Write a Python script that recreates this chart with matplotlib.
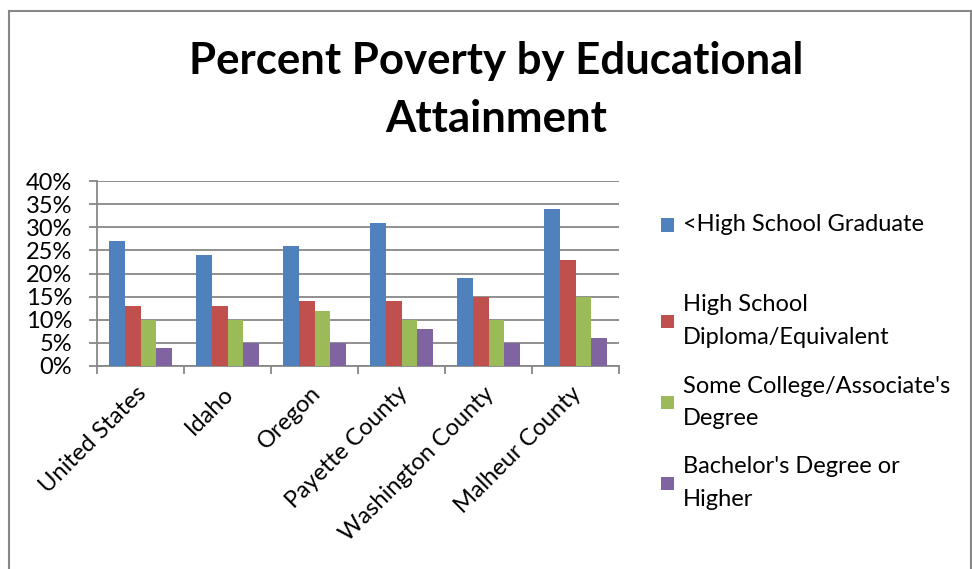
import textwrap
import matplotlib
matplotlib.use("Agg")
import matplotlib.pyplot as plt
import matplotlib.transforms as mtransforms
from matplotlib.patches import Rectangle
from matplotlib.ticker import PercentFormatter, FixedLocator
import numpy as np

plt.rcParams['font.family'] = ['Lato', 'DejaVu Sans']

title = "Percent Poverty by Educational\nAttainment"
regions = ["United States", "Idaho", "Oregon", "Payette County",
           "Washington County", "Malheur County"]
series_names = ["<High School Graduate", "High School Diploma/Equivalent",
                "Some College/Associate's Degree", "Bachelor's Degree or Higher"]
less_than_hs = [27, 24, 26, 31, 19, 34]
hs_diploma = [13, 13, 14, 14, 15, 23]
some_college = [10, 10, 12, 10, 10, 15]
bachelors = [4, 5, 5, 8, 5, 6]
series_values = [less_than_hs, hs_diploma, some_college, bachelors]
colors = ["#4F81BD", "#C0504D", "#9BBB59", "#8064A2"]

W, H = 972, 569
fig = plt.figure(figsize=(W / 100, H / 100), dpi=100)
fig.patch.set_facecolor("white")

# chart frame
fig.add_artist(Rectangle((9 / W, -0.1), (971 - 9) / W, 1.1 - 11 / H,
                         transform=fig.transFigure, fill=False,
                         edgecolor="#878787", linewidth=1.5))

ax = fig.add_axes([97 / W, 1 - 366 / H, (619 - 97) / W, (366 - 181) / H])
grid_c = "#878787"
fs = 17

n_cat = len(regions)
n_ser = len(series_values)
bw = 1 / (n_ser + 1.5)
x = np.arange(n_cat) + 0.5
for i, (vals, c) in enumerate(zip(series_values, colors)):
    offs = (i - (n_ser - 1) / 2) * bw
    ax.bar(x + offs, vals, width=bw, color=c, edgecolor="none", zorder=3)

ax.set_xlim(0, n_cat)
ax.set_ylim(0, 40)
ax.yaxis.set_major_locator(FixedLocator(np.arange(0, 41, 5)))
ax.yaxis.set_major_formatter(PercentFormatter(decimals=0))
ax.grid(axis="y", color=grid_c, linewidth=1.3, zorder=0)
ax.set_axisbelow(True)
for s in ["top", "right"]:
    ax.spines[s].set_visible(False)
for s in ["left", "bottom"]:
    ax.spines[s].set_color(grid_c)
    ax.spines[s].set_linewidth(1.3)
ax.tick_params(axis="y", length=6, width=1.3, color=grid_c, labelsize=fs,
               pad=12)
ax.set_xticks(x)
ax.set_xticklabels(regions, rotation=45, ha="right", va="top",
                   rotation_mode="anchor", fontsize=fs)
ax.tick_params(axis="x", which="major", length=0, pad=12)
ax.set_xticks(np.arange(n_cat + 1), minor=True)
ax.tick_params(axis="x", which="minor", length=6, width=1.3, color=grid_c)
shift = mtransforms.ScaledTranslation(-5 / 100, 0, fig.dpi_scale_trans)
for lbl in ax.get_xticklabels():
    lbl.set_transform(lbl.get_transform() + shift)

fig.text(496 / W, 1 - 41 / H, title, ha="center", va="top",
         fontsize=31.5, fontweight="bold", linespacing=1.55)

# legend
legend_centers = [225, 321, 402.5, 483]
for name, c, yc in zip(series_names, colors, legend_centers):
    fig.add_artist(Rectangle((661 / W, 1 - (yc + 6.5) / H), 13 / W, 13 / H,
                             transform=fig.transFigure, facecolor=c,
                             edgecolor="none"))
    fig.text(683 / W, 1 - yc / H, textwrap.fill(name, 25), ha="left",
             va="center", fontsize=fs, linespacing=1.65)

fig.savefig("out.png", dpi=100)
